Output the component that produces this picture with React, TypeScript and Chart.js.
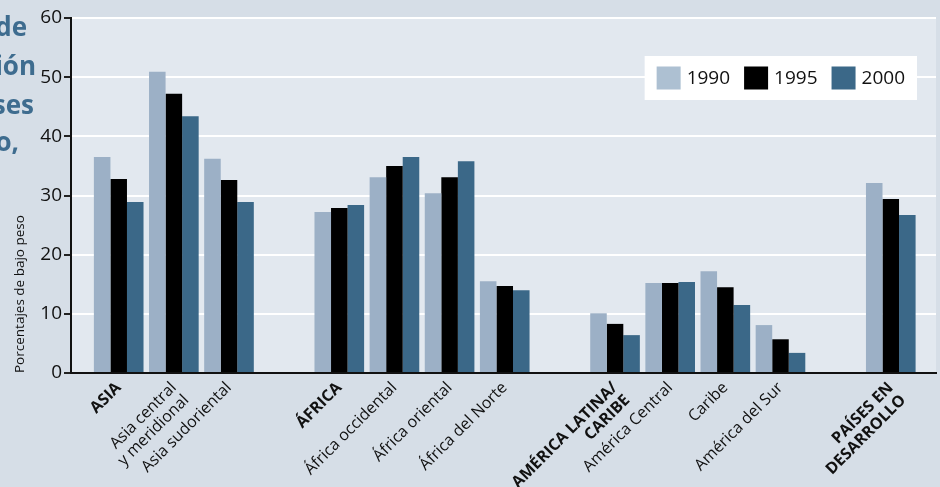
import { useEffect, useRef } from 'react';
import { Chart, registerables } from 'chart.js';

Chart.register(...registerables);

const FONT = "'Open Sans', 'Noto Sans', sans-serif";

// Category slots (empty strings are the spacers between regions)
const categories: (string | string[])[] = [
  'ASIA',
  ['Asia central', 'y meridional'],
  'Asia sudoriental',
  '',
  'ÁFRICA',
  'África occidental',
  'África oriental',
  'África del Norte',
  '',
  ['AMÉRICA LATINA/', 'CARIBE'],
  'América Central',
  'Caribe',
  'América del Sur',
  '',
  ['PAÍSES EN', 'DESARROLLO'],
];
const isRegionTotal = [true, false, false, false, true, false, false, false, false, true, false, false, false, false, true];

const seriesLabels = ['1990', '1995', '2000'];
const values1990 = [36.5, 50.9, 36.2, null, 27.2, 33.1, 30.4, 15.5, null, 10.1, 15.2, 17.2, 8.1, null, 32.1];
const values1995 = [32.8, 47.2, 32.6, null, 27.9, 35.0, 33.1, 14.7, null, 8.3, 15.2, 14.5, 5.7, null, 29.4];
const values2000 = [28.9, 43.4, 28.9, null, 28.4, 36.5, 35.8, 14.0, null, 6.4, 15.4, 11.5, 3.4, null, 26.7];

const yTickValues = [0, 10, 20, 30, 40, 50, 60];
const yAxisTitle = 'Porcentajes de bajo peso';
const titleFragments = ['de', 'ión', 'ses', 'o,'];

const COLORS = ['#9cb0c6', '#000000', '#3b6888'];
const LEGEND_COLORS = ['#adc0d2', '#000000', '#3b6888'];

export default function App() {
  const canvasRef = useRef<HTMLCanvasElement | null>(null);

  useEffect(() => {
    if (!canvasRef.current) return;
    const slotIndex = categories.map((_, i) => i);

    const backgroundPlugin = {
      id: 'bgPlugin',
      beforeDraw(chart: any) {
        const { ctx, width, height, chartArea } = chart;
        ctx.save();
        ctx.fillStyle = '#d6dee7';
        ctx.fillRect(0, 0, width, height);
        ctx.fillStyle = '#e2e8ef';
        ctx.fillRect(chartArea.left, chartArea.top, chartArea.right - chartArea.left, chartArea.bottom - chartArea.top);
        ctx.restore();
      },
    };

    const overlayPlugin = {
      id: 'overlayPlugin',
      afterDraw(chart: any) {
        const { ctx, chartArea } = chart;
        ctx.save();
        // legend
        ctx.font = `19px ${FONT}`;
        const items = chart.data.datasets.map((ds: any, i: number) => ({
          label: ds.label,
          color: LEGEND_COLORS[i],
          w: ctx.measureText(ds.label).width,
        }));
        const sw = 24, sh = 23, gapText = 6, gapItem = 14, pad = 12, boxH = 44;
        const boxW = pad * 2 + items.reduce((s: number, it: any) => s + sw + gapText + it.w, 0) + gapItem * (items.length - 1);
        const bx = chartArea.right - 19 - boxW;
        const by = chartArea.top + 38;
        ctx.fillStyle = '#ffffff';
        ctx.fillRect(bx, by, boxW, boxH);
        let x = bx + pad;
        const cy = by + boxH / 2;
        ctx.textBaseline = 'middle';
        ctx.textAlign = 'left';
        items.forEach((it: any) => {
          ctx.fillStyle = it.color;
          ctx.fillRect(x, cy - sh / 2, sw, sh);
          ctx.fillStyle = '#111111';
          ctx.fillText(it.label, x + sw + gapText, cy + 1);
          x += sw + gapText + it.w + gapItem;
        });
        // cut-off title fragments on the left
        ctx.font = `bold 26px ${FONT}`;
        ctx.fillStyle = '#3e6c8f';
        ctx.textAlign = 'right';
        ctx.textBaseline = 'alphabetic';
        const rights = [27, 36, 34, 19];
        const baselines = [36, 75, 114, 151];
        titleFragments.forEach((t, i) => ctx.fillText(t, rights[i], baselines[i]));
        ctx.restore();
      },
    };

    const chart = new Chart(canvasRef.current, {
      type: 'bar',
      data: {
        labels: slotIndex,
        datasets: [
          { label: seriesLabels[0], data: values1990, backgroundColor: COLORS[0] },
          { label: seriesLabels[1], data: values1995, backgroundColor: COLORS[1] },
          { label: seriesLabels[2], data: values2000, backgroundColor: COLORS[2] },
        ],
      },
      options: {
        animation: false,
        responsive: false,
        maintainAspectRatio: false,
        layout: { padding: { top: 18, right: 4, left: 0, bottom: 0 } },
        datasets: { bar: { categoryPercentage: 0.9, barPercentage: 1.0 } },
        plugins: {
          legend: { display: false },
          tooltip: { enabled: false },
        },
        scales: {
          x: {
            type: 'linear',
            min: -0.865,
            max: 14.82,
            offset: false,
            grid: { display: false, drawTicks: false },
            border: { display: true, color: '#111111', width: 2, z: 1 },
            afterBuildTicks: (scale: any) => {
              scale.ticks = slotIndex.map((v) => ({ value: v }));
            },
            afterFit: (scale: any) => {
              scale.height = 114;
            },
            ticks: {
              autoSkip: false,
              minRotation: 45,
              maxRotation: 45,
              padding: 6,
              color: '#111111',
              font: (ctx: any) => ({
                family: FONT,
                size: 16,
                weight: isRegionTotal[ctx.index] ? 'bold' : 'normal',
                lineHeight: 1.1,
              }),
              callback: (value: any) => categories[Math.round(Number(value))] as any,
            },
          },
          y: {
            min: 0,
            max: 60,
            afterBuildTicks: (scale: any) => {
              scale.ticks = yTickValues.map((v) => ({ value: v }));
            },
            afterFit: (scale: any) => {
              scale.width = 71;
            },
            grid: { color: '#ffffff', lineWidth: 2, tickColor: '#222222', tickLength: 7, drawTicks: true },
            border: { display: true, color: '#111111', width: 2 },
            ticks: {
              padding: 2,
              color: '#111111',
              font: { family: FONT, size: 19 },
            },
            title: {
              display: true,
              text: yAxisTitle,
              align: 'start',
              color: '#111111',
              font: { family: FONT, size: 13.5 },
              padding: { top: 12, bottom: 0 },
            },
          },
        },
      },
      plugins: [backgroundPlugin, overlayPlugin],
    } as any);

    return () => chart.destroy();
  }, []);

  return (
    <div style={{ position: 'fixed', left: 0, top: 0, width: 940, height: 487 }}>
      <canvas ref={canvasRef} width={940} height={487} style={{ width: 940, height: 487 }} />
    </div>
  );
}
